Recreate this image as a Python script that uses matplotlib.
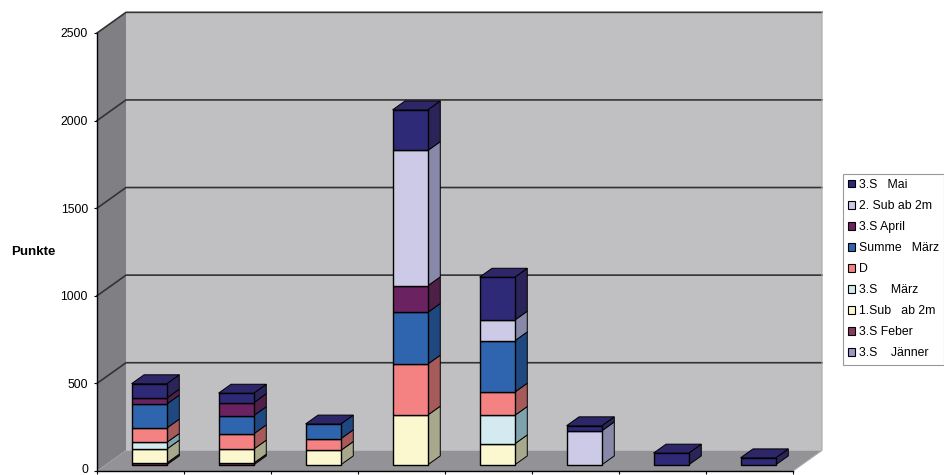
import numpy as np
import matplotlib
matplotlib.use('Agg')
import matplotlib.pyplot as plt
from matplotlib.patches import Polygon, Patch
from matplotlib.transforms import ScaledTranslation

plt.rcParams['font.family'] = ['Liberation Sans', 'DejaVu Sans']

fontsize = 8.8

# stacked values per category, bottom series first
categories = np.arange(8)
jaenner = [0, 0, 0, 0, 0, 0, 0, 0]
feber = [10, 10, 0, 0, 0, 0, 0, 0]
sub1 = [80, 80, 82, 284, 120, 0, 0, 0]
maerz3 = [38, 0, 0, 0, 162, 0, 0, 0]
d_vals = [82, 87, 67, 291, 133, 0, 0, 0]
summe = [137, 104, 84, 295, 293, 0, 0, 0]
april = [34, 74, 0, 152, 0, 0, 0, 0]
sub2 = [0, 0, 0, 772, 118, 194, 0, 0]
mai = [82, 54, 0, 232, 245, 29, 67, 40]

series = [jaenner, feber, sub1, maerz3, d_vals, summe, april, sub2, mai]
labels = ['3.S    Jänner', '3.S Feber', '1.Sub   ab 2m', '3.S    März', 'D',
          'Summe   März', '3.S April', '2. Sub ab 2m', '3.S   Mai']
colors = ['#9a98c8', '#8b3a62', '#fbf8d0', '#d2eaf0', '#f58282',
          '#2f65ae', '#6a2360', '#cccae6', '#2f2a78']
sides = ['#77769a', '#662a48', '#a8a88c', '#7fa3ac', '#a65a5a',
         '#204880', '#4e2048', '#8888a8', '#2a2458']
top_color = '#2d2668'
yticks = [0, 500, 1000, 1500, 2000, 2500]

# oblique projection of the box, depth 0 is the front plane, 1 the back wall
dx = 29 / 87.
dv = 118.
d0, d1 = 0.3, 0.73
width = 0.405


def proj(x, v, d):
    return (x + d * dx, v + d * dv)


fig = plt.figure(figsize=(9.45, 4.75), dpi=100)
ax = fig.add_axes([97 / 945., 1 - 471 / 475., 696 / 945., 438 / 475.])
ax.patch.set_visible(False)
ax.set_xlim(-0.5, 7.5)
ax.set_ylim(0, 2500)

xl, xr = -0.5, 7.5
back = [proj(xl, 0, 1), proj(xr, 0, 1), proj(xr, 2500, 1), proj(xl, 2500, 1)]
side = [proj(xl, 0, 0), proj(xl, 0, 1), proj(xl, 2500, 1), proj(xl, 2500, 0)]
floor = [proj(xl, 0, 0), proj(xr, 0, 0), proj(xr, 0, 1), proj(xl, 0, 1)]
ax.add_patch(Polygon(back, fc='#c0c0c3', ec='none', clip_on=False, zorder=1))
ax.add_patch(Polygon(side, fc='#808084', ec='none', clip_on=False, zorder=1))
ax.add_patch(Polygon(floor, fc='#939397', ec='none', clip_on=False, zorder=1))

for v in yticks[1:]:
    pts = np.array([proj(xl, v, 0), proj(xl, v, 1), proj(xr, v, 1)])
    ax.plot(pts[:, 0], pts[:, 1], color='#333333', lw=1.2, clip_on=False, zorder=2)
pts = np.array([proj(xr, 0, 0), proj(xr, 0, 1), proj(xr, 2500, 1)])
ax.plot(pts[:, 0], pts[:, 1], color='#a8a8a8', lw=0.8, clip_on=False, zorder=2)

# stacks, front faces through ax.bar, side and top faces projected
bottoms = np.zeros(len(categories))
z = 3
for vals, col, sc in zip(series, colors, sides):
    vals = np.array(vals, dtype=float)
    keep = vals > 0
    if keep.any():
        ax.bar(categories[keep] + d0 * dx, vals[keep], width=width,
               bottom=bottoms[keep] + d0 * dv, color=col, edgecolor='black',
               linewidth=1.0, clip_on=False, zorder=z + 1)
    for c in categories[keep]:
        x1 = c + width / 2.
        b0, b1 = bottoms[c], bottoms[c] + vals[c]
        face = [proj(x1, b0, d0), proj(x1, b0, d1), proj(x1, b1, d1), proj(x1, b1, d0)]
        ax.add_patch(Polygon(face, fc=sc, ec='black', lw=0.7, clip_on=False, zorder=z))
    bottoms += vals

for c in categories:
    x0, x1 = c - width / 2., c + width / 2.
    h = bottoms[c]
    face = [proj(x0, h, d0), proj(x1, h, d0), proj(x1, h, d1), proj(x0, h, d1)]
    ax.add_patch(Polygon(face, fc=top_color, ec='black', lw=0.7, clip_on=False, zorder=z + 1))

ax.spines['top'].set_visible(False)
ax.spines['right'].set_visible(False)
for s in ['left', 'bottom']:
    ax.spines[s].set_linewidth(1.0)
    ax.spines[s].set_zorder(20)
ax.set_yticks(yticks)
ax.set_xticks(categories - 0.5)
ax.set_xticks([7.5], minor=True)
ax.set_xticklabels([])
ax.tick_params(axis='x', which='both', length=2.2, width=0.8)
ax.tick_params(axis='y', length=2.5, width=0.8, pad=4, labelsize=fontsize)
# keep the 0 inside the picture
zero = ax.get_yticklabels()[0]
zero.set_transform(zero.get_transform() + ScaledTranslation(0, 1.5 / 72, fig.dpi_scale_trans))

ax.set_ylabel('Punkte', fontsize=9.6, fontweight='bold', rotation=0,
              ha='center', va='center')
ax.yaxis.set_label_coords((33.5 - 97) / 696., 1 - (252 - 33) / 438.)

handles = [Patch(fc=c, ec='black', lw=0.8) for c in colors[::-1]]
leg = fig.legend(handles, labels[::-1], loc='upper left', fontsize=fontsize,
                 bbox_to_anchor=(843 / 945., 1 - 174 / 475.), borderaxespad=0,
                 handlelength=0.55, handleheight=0.55, handletextpad=0.3,
                 labelspacing=0.74, borderpad=0.42, fancybox=False, framealpha=1,
                 edgecolor='#999999')
leg.get_frame().set_linewidth(0.8)

fig.savefig('out.png', dpi=100)
